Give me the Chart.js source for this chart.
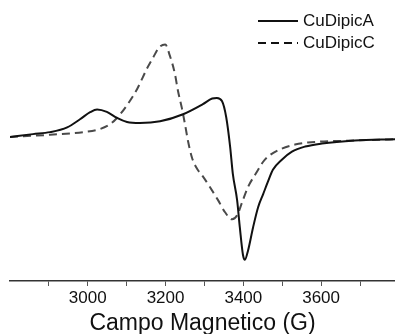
<!DOCTYPE html>
<html>
<head>
<meta charset="utf-8">
<script src="https://cdn.jsdelivr.net/npm/chart.js@4/dist/chart.umd.min.js"></script>
<style>
    html, body { margin: 0; padding: 0; background: #fff; }
    #wrap { width: 395px; height: 334px; }
</style>
</head>
<body>
<div id="wrap"><canvas id="chart_epr"></canvas></div>
<script>
    // field (G) and signal (a.u.)
    var fieldA = [2800, 2859, 2903, 2947, 2980, 3006, 3024, 3049, 3075, 3101, 3134, 3186, 3245, 3296, 3320, 3332, 3345, 3356, 3366, 3373, 3384, 3391, 3399, 3404, 3412, 3425, 3438, 3451, 3463, 3476, 3499, 3525, 3559, 3602, 3687, 3790];
    var signalA = [0.5, 3.3, 5.3, 10, 18, 25, 27.7, 25.3, 19.3, 15.3, 14.3, 16, 23, 33, 38.5, 39, 36, 20, -9, -36, -62, -89, -116, -121, -112, -89, -69, -56, -44, -32, -22, -14, -9, -6, -3, -1.7];

    var fieldC = [2800, 2903, 2988, 3031, 3057, 3075, 3101, 3127, 3152, 3168, 3183, 3199, 3211, 3224, 3232, 3242, 3250, 3258, 3268, 3281, 3295, 3314, 3335, 3353, 3371, 3384, 3397, 3412, 3435, 3451, 3463, 3499, 3533, 3566, 3687, 3790];
    var signalC = [0.5, 2.7, 5.3, 8.3, 13, 19.3, 32, 48, 68, 79, 89, 92, 81, 63, 46, 29, 13, -4, -20, -31, -38, -49, -62, -74, -81, -77, -64, -49, -34, -24, -19, -11, -7, -5, -3, -1.7];

    var seriesNames = ['CuDipicA', 'CuDipicC'];
    var tickValues = [2900, 3000, 3100, 3200, 3300, 3400, 3500, 3600, 3700];
    var tickLabels = ['3000', '3200', '3400', '3600'];

    function toPoints(xs, ys) {
        var pts = [];
        for (var i = 0; i < xs.length; i++) {
            pts.push({ x: xs[i], y: ys[i] });
        }
        return pts;
    }

    // legend sits inside the plot, top right
    var insideLegend = {
        id: 'insideLegend',
        afterDraw: function (chart) {
            var ctx = chart.ctx;
            var rows = [{ y: 21, dash: [] }, { y: 43, dash: [8, 5] }];
            ctx.save();
            ctx.font = '17px "Liberation Sans", Arial, sans-serif';
            ctx.textBaseline = 'middle';
            ctx.fillStyle = '#111';
            ctx.strokeStyle = '#111';
            ctx.lineWidth = 2;
            for (var i = 0; i < rows.length; i++) {
                ctx.setLineDash(rows[i].dash);
                ctx.beginPath();
                ctx.moveTo(258, rows[i].y);
                ctx.lineTo(298, rows[i].y);
                ctx.stroke();
                ctx.fillText(seriesNames[i], 303, rows[i].y);
            }
            ctx.restore();
        }
    };

    var chart_settings = {
        type: 'line',
        data: {
            datasets: [{
                label: seriesNames[0],
                data: toPoints(fieldA, signalA),
                borderColor: '#111',
                borderWidth: 2,
                pointRadius: 0,
                cubicInterpolationMode: 'monotone'
            }, {
                label: seriesNames[1],
                data: toPoints(fieldC, signalC),
                borderColor: '#4a4a4a',
                borderWidth: 2,
                borderDash: [8, 5],
                pointRadius: 0,
                cubicInterpolationMode: 'monotone'
            }]
        },
        options: {
            responsive: false,
            animation: false,
            layout: {
                padding: { left: 10, right: 0, top: 0, bottom: -1 }
            },
            plugins: {
                legend: { display: false },
                tooltip: { enabled: false }
            },
            scales: {
                x: {
                    type: 'linear',
                    min: 2800,
                    max: 3790,
                    border: { display: true, color: '#333', width: 1.5 },
                    grid: { display: true, drawOnChartArea: false, drawTicks: true, tickLength: 5, color: '#555' },
                    afterBuildTicks: function (scale) {
                        scale.ticks = tickValues.map(function (v) { return { value: v }; });
                    },
                    ticks: {
                        autoSkip: false,
                        maxRotation: 0,
                        padding: 4,
                        color: '#111',
                        font: { family: '"Liberation Sans", Arial, sans-serif', size: 17, lineHeight: 1 },
                        callback: function (v) {
                            var s = String(v);
                            return tickLabels.indexOf(s) >= 0 ? s : '';
                        }
                    },
                    title: {
                        display: true,
                        text: 'Campo Magnetico (G)',
                        color: '#111',
                        font: { family: '"Liberation Sans", Arial, sans-serif', size: 23, lineHeight: 1 },
                        padding: { top: 1, bottom: 0 }
                    }
                },
                y: {
                    display: false,
                    min: -142,
                    max: 136
                }
            }
        },
        plugins: [insideLegend]
    };

    var canvas = document.getElementById('chart_epr');
    canvas.width = 395;
    canvas.height = 334;
    var chart_epr = new Chart(canvas, chart_settings);
</script>
</body>
</html>
